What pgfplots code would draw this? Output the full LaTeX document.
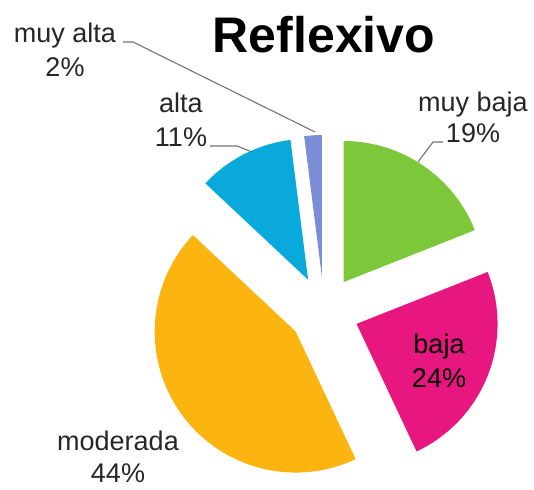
\documentclass[border=0pt]{standalone}
\usepackage{fontspec}
\setmainfont{Liberation Sans}
\usepackage{pgfplots}
\pgfplotsset{compat=1.18}
\definecolor{cMB}{RGB}{124,200,58}
\definecolor{cB}{RGB}{232,23,127}
\definecolor{cMo}{RGB}{251,180,16}
\definecolor{cA}{RGB}{9,169,220}
\definecolor{cMA}{RGB}{122,141,214}
\definecolor{txt}{RGB}{38,38,38}
\definecolor{lead}{RGB}{115,115,115}
% slice: #1 cumulative percent before, #2 percent, #3 colour
\newcommand\slice[3]{%
  \pgfmathsetmacro\aA{90-3.6*#1}%
  \pgfmathsetmacro\aB{90-3.6*(#1+#2)}%
  \pgfmathsetmacro\cx{324+35*cos((\aA+\aB)/2)}%
  \pgfmathsetmacro\cy{178+35*sin((\aA+\aB)/2)}%
  \edef\temp{\noexpand\addplot[fill=#3,draw=none,domain=\aB:\aA,samples=90]
    ({\cx+141*cos(x)},{\cy+141*sin(x)}) -- (axis cs:\cx,\cy) -- cycle;}%
  \temp}
\begin{document}
\begin{tikzpicture}
\begin{axis}[hide axis, scale only axis, width=534pt, height=489pt,
  xmin=0, xmax=534, ymin=0, ymax=489, clip=false]
\path (axis cs:0,0) rectangle (axis cs:534,489);
% data: muy baja 19, baja 24, moderada 44, alta 11, muy alta 2
\slice{0}{19}{cMB}
\slice{19}{24}{cB}
\slice{43}{44}{cMo}
\slice{87}{11}{cA}
\slice{98}{2}{cMA}
% leader lines
\draw[lead, line width=1.1pt] (axis cs:123,447) -- (axis cs:133,447) -- (axis cs:315,357);
\draw[lead, line width=1.1pt] (axis cs:210,343) -- (axis cs:237,343) -- (axis cs:252,337);
\draw[lead, line width=1.1pt] (axis cs:443,347) -- (axis cs:433,347) -- (axis cs:418,327);
% labels
\begin{scope}[every node/.style={anchor=base, inner sep=0pt, text=txt, font=\fontsize{27}{33}\selectfont}]
\node at (axis cs:65,446) {muy alta};
\node at (axis cs:65,412) {2\%};
\node at (axis cs:181,376) {alta};
\node at (axis cs:181,342) {11\%};
\node at (axis cs:473,377) {muy baja};
\node at (axis cs:473,346) {19\%};
\node[text=black] at (axis cs:439,135) {baja};
\node[text=black] at (axis cs:439,101) {24\%};
\node at (axis cs:118,39) {moderada};
\node at (axis cs:118,7) {44\%};
\end{scope}
\node[anchor=base, inner sep=0pt, font=\fontsize{50}{60}\selectfont\bfseries] at (axis cs:324,436) {Reflexivo};
\end{axis}
\end{tikzpicture}
\end{document}
